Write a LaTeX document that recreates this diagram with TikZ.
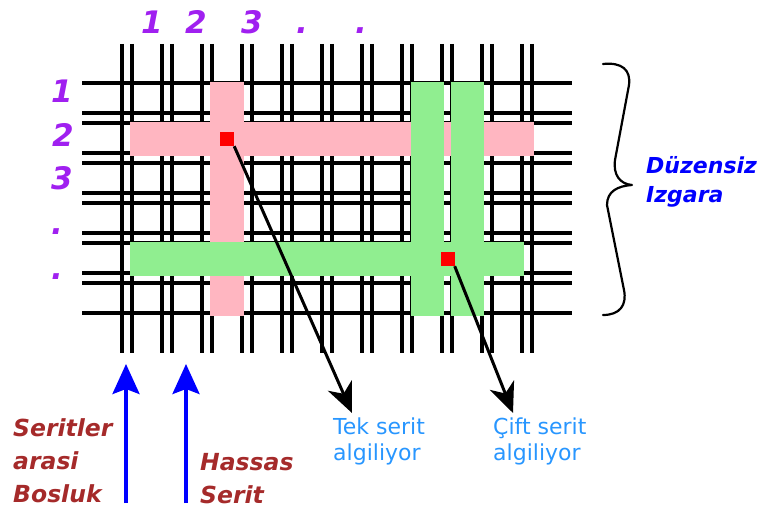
\documentclass[tikz,border=0pt]{standalone}
\usepackage{fontspec}
\setmainfont{DejaVu Sans}
\usetikzlibrary{arrows.meta}
\definecolor{pinkband}{RGB}{255,182,193}
\definecolor{greenband}{RGB}{144,238,144}
\definecolor{purplelab}{RGB}{160,32,240}
\definecolor{brownlab}{RGB}{165,42,42}
\definecolor{lightbluelab}{RGB}{40,150,255}
\tikzset{
  gridline/.style={line width=3.6bp, black},
  pinkfill/.style={fill=pinkband},
  greenfill/.style={fill=greenband},
  redsq/.style={rectangle, fill=red, draw=none, minimum size=14bp, inner sep=0pt},
  digit/.style={text=purplelab, font=\fontsize{31bp}{34bp}\selectfont\bfseries\itshape, inner sep=0pt, anchor=base},
  brownlabel/.style={text=brownlab, font=\fontsize{23.5bp}{33bp}\selectfont\bfseries\itshape, inner sep=0pt, align=left, anchor=base west},
  bluelabel/.style={text=blue, font=\fontsize{22bp}{29bp}\selectfont\bfseries\itshape, inner sep=0pt, align=left, anchor=base west},
  detectlabel/.style={text=lightbluelab, font=\fontsize{22bp}{26bp}\selectfont, inner sep=0pt, align=left, anchor=base west},
  blackarrow/.style={line width=3bp, black, -{Stealth[length=30bp,width=26bp,inset=9bp]}},
  bluearrow/.style={line width=3.5bp, blue, -{Stealth[length=30bp,width=27bp,inset=5bp]}},
  bracestyle/.style={line width=2.2bp, black, line cap=round, line join=round}
}
\begin{document}
\begin{tikzpicture}[x=1bp,y=-1bp]
\useasboundingbox (0,0) rectangle (763,508);

% grid lines
\foreach \i in {0,...,10} {
  \draw[gridline] (122+40*\i,44) -- (122+40*\i,353);
  \draw[gridline] (132+40*\i,44) -- (132+40*\i,353);
}
\foreach \yy in {83,113,123,153,163,193,203,233,243,273,283,313}
  \draw[gridline] (82,\yy) -- (572,\yy);

% bands
\fill[pinkfill] (130,122) rectangle (534,156);
\fill[pinkfill] (210,82) rectangle (244,316);
\fill[greenfill] (130,242) rectangle (524,276);
\fill[greenfill] (411,82) rectangle (444,316);
\fill[greenfill] (451,82) rectangle (484,316);

% red detection squares
\node[redsq] (r1) at (227,139) {};
\node[redsq] (r2) at (447.5,259) {};

% column numbers
\node[digit] (c1) at (152,34) {1};
\node[digit] (c2) at (196,34) {2};
\node[digit] (c3) at (252,34) {3};
\node[digit] (c4) at (302,34) {.};
\node[digit] (c5) at (361,34) {.};

% row numbers
\node[digit] (w1) at (62,103) {1};
\node[digit] (w2) at (63,147) {2};
\node[digit] (w3) at (62,190) {3};
\node[digit] (w4) at (57,235) {.};
\node[digit] (w5) at (57,280) {.};

% brace
\draw[bracestyle] (603,64) .. controls (622,62) and (631,70) .. (629,85)
  -- (615,160) .. controls (613,175) and (620,184) .. (632,185)
  .. controls (618,186) and (607,191) .. (607,205)
  -- (624,290) .. controls (627,305) and (620,315) .. (603,315);
\node[bluelabel] (grid) at (646,203) {Düzensiz\\Izgara};

% detection labels
\node[detectlabel] (tek) at (333,460) {Tek serit\\algiliyor};
\node[detectlabel] (cift) at (493,460) {Çift serit\\algiliyor};
\coordinate (tektip) at (352,413);
\coordinate (cifttip) at (513,413);
\draw[blackarrow] (r1.south east) -- (tektip);
\draw[blackarrow] (r2.south east) -- (cifttip);

% bottom labels and arrows
\node[brownlabel] (gap) at (13,502) {Seritler\\arasi\\Bosluk};
\node[brownlabel] (fine) at (200,503) {Hassas\\Serit};
\coordinate (b1s) at (126,503);
\coordinate (b1t) at (126,364);
\coordinate (b2s) at (186,503);
\coordinate (b2t) at (186,364);
\draw[bluearrow] (b1s) -- (b1t);
\draw[bluearrow] (b2s) -- (b2t);
\end{tikzpicture}
\end{document}
